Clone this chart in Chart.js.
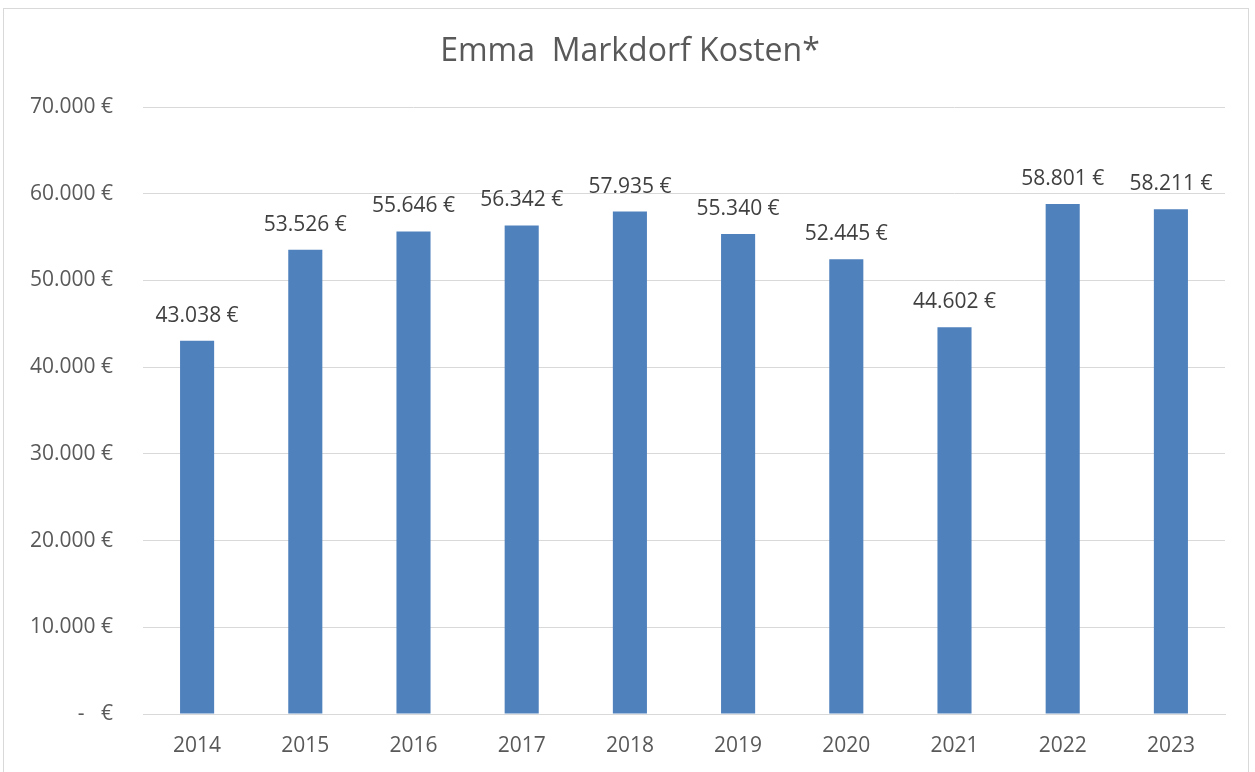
<!DOCTYPE html>
<html>
<head>
<meta charset="utf-8">
<script src="https://cdn.jsdelivr.net/npm/chart.js@4/dist/chart.umd.min.js"></script>
<style>
  html, body { margin: 0; padding: 0; background: #fff; }
  #frame { position: absolute; left: 3px; top: 8px; width: 1246px; height: 790px; border: 1px solid #d9d9d9; box-sizing: border-box; }
  #wrap { position: absolute; left: 0; top: 0; width: 1255px; height: 772px; }
</style>
</head>
<body>
<div id="frame"></div>
<div id="wrap"><canvas id="c" width="1255" height="772"></canvas></div>
<script>
const chartTitle = 'Emma  Markdorf Kosten*';
const years = ['2014', '2015', '2016', '2017', '2018', '2019', '2020', '2021', '2022', '2023'];
const costs = [43038, 53526, 55646, 56342, 57935, 55340, 52445, 44602, 58801, 58211];
const yMin = 0, yMax = 70000, yStep = 10000;

const FONT = "'Open Sans', 'Liberation Sans', sans-serif";

function euro(v) {
  if (v === 0) return '-   €';
  const s = Math.round(v).toString().replace(/\B(?=(\d{3})+(?!\d))/g, '.');
  return s + ' €';
}

const labelPlugin = {
  id: 'barLabels',
  afterDatasetsDraw(chart) {
    const ctx = chart.ctx;
    const meta = chart.getDatasetMeta(0);
    ctx.save();
    ctx.font = '21px ' + FONT;
    ctx.fillStyle = '#404040';
    ctx.textAlign = 'center';
    ctx.textBaseline = 'alphabetic';
    meta.data.forEach((bar, i) => {
      ctx.fillText(euro(costs[i]), bar.x, bar.y - 19);
    });
    ctx.restore();
  }
};

const titlePlugin = {
  id: 'customTitle',
  afterDraw(chart) {
    const ctx = chart.ctx;
    ctx.save();
    ctx.font = '32px ' + FONT;
    ctx.fillStyle = '#595959';
    ctx.textAlign = 'center';
    ctx.textBaseline = 'middle';
    ctx.fillText(chartTitle, 630, 52);
    ctx.restore();
  }
};

new Chart(document.getElementById('c'), {
  type: 'bar',
  data: {
    labels: years,
    datasets: [{
      data: costs,
      backgroundColor: '#4F81BD',
      borderWidth: 0,
      categoryPercentage: 1,
      barPercentage: 0.315
    }]
  },
  options: {
    responsive: false,
    animation: false,
    devicePixelRatio: 1,
    layout: { padding: { left: 0, right: 30, top: 107, bottom: 0 } },
    plugins: { legend: { display: false }, title: { display: false }, tooltip: { enabled: false } },
    scales: {
      x: {
        grid: { display: false, drawTicks: false },
        border: { display: true, color: '#d9d9d9', width: 1 },
        ticks: { color: '#595959', font: { family: FONT, size: 21 }, padding: 19 },
        afterFit(scale) { scale.height = 58; }
      },
      y: {
        min: yMin, max: yMax,
        grid: { color: '#d9d9d9', lineWidth: 1, drawTicks: false },
        border: { display: false },
        ticks: {
          stepSize: yStep,
          color: '#595959',
          font: { family: FONT, size: 21 },
          padding: 30,
          callback: (v) => euro(v)
        },
        afterFit(scale) { scale.width = 143; }
      }
    }
  },
  plugins: [labelPlugin, titlePlugin]
});
</script>
</body>
</html>
